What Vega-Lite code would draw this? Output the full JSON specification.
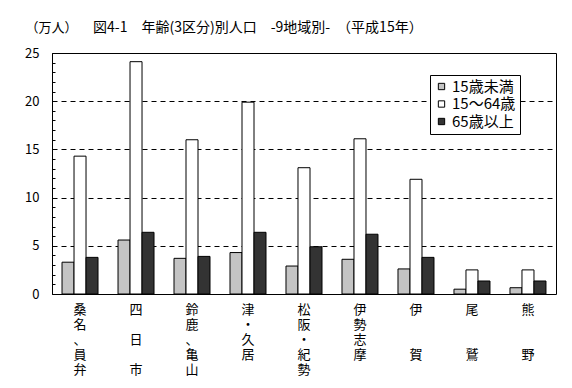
{
  "$schema": "https://vega.github.io/schema/vega-lite/v6.json",
  "width": 504,
  "height": 241,
  "autosize": {"type": "none"},
  "padding": {"left": 52, "top": 53, "right": 16, "bottom": 94},
  "background": "white",
  "config": {
    "view": {"stroke": "black", "strokeWidth": 1},
    "font": "Noto Sans CJK JP"
  },
  "title": {
    "text": "図4-1　年齢(3区分)別人口　-9地域別-　（平成15年）",
    "anchor": "start",
    "frame": "group",
    "dx": 41,
    "offset": -14,
    "fontSize": 14,
    "fontWeight": "normal",
    "font": "Noto Sans CJK JP",
    "color": "black"
  },
  "data": {
    "values": [
      {"region": "桑名、員弁", "age": "15歳未満", "value": 3.3},
      {"region": "桑名、員弁", "age": "15～64歳", "value": 14.3},
      {"region": "桑名、員弁", "age": "65歳以上", "value": 3.8},
      {"region": "四日市", "age": "15歳未満", "value": 5.6},
      {"region": "四日市", "age": "15～64歳", "value": 24.1},
      {"region": "四日市", "age": "65歳以上", "value": 6.4},
      {"region": "鈴鹿、亀山", "age": "15歳未満", "value": 3.7},
      {"region": "鈴鹿、亀山", "age": "15～64歳", "value": 16.0},
      {"region": "鈴鹿、亀山", "age": "65歳以上", "value": 3.9},
      {"region": "津・久居", "age": "15歳未満", "value": 4.3},
      {"region": "津・久居", "age": "15～64歳", "value": 19.9},
      {"region": "津・久居", "age": "65歳以上", "value": 6.4},
      {"region": "松阪・紀勢", "age": "15歳未満", "value": 2.9},
      {"region": "松阪・紀勢", "age": "15～64歳", "value": 13.1},
      {"region": "松阪・紀勢", "age": "65歳以上", "value": 4.9},
      {"region": "伊勢志摩", "age": "15歳未満", "value": 3.6},
      {"region": "伊勢志摩", "age": "15～64歳", "value": 16.1},
      {"region": "伊勢志摩", "age": "65歳以上", "value": 6.2},
      {"region": "伊賀", "age": "15歳未満", "value": 2.6},
      {"region": "伊賀", "age": "15～64歳", "value": 11.9},
      {"region": "伊賀", "age": "65歳以上", "value": 3.8},
      {"region": "尾鷲", "age": "15歳未満", "value": 0.5},
      {"region": "尾鷲", "age": "15～64歳", "value": 2.5},
      {"region": "尾鷲", "age": "65歳以上", "value": 1.35},
      {"region": "熊野", "age": "15歳未満", "value": 0.65},
      {"region": "熊野", "age": "15～64歳", "value": 2.5},
      {"region": "熊野", "age": "65歳以上", "value": 1.35}
    ]
  },
  "mark": {"type": "bar", "stroke": "black", "strokeWidth": 1},
  "encoding": {
    "x": {
      "field": "region",
      "type": "nominal",
      "sort": null,
      "scale": {"paddingInner": 0.357, "paddingOuter": 0.179},
      "axis": {
        "title": null,
        "labelAngle": 0,
        "ticks": false,
        "domain": false,
        "labelBaseline": "top",
        "labelPadding": 9,
        "labelLineHeight": 15,
        "labelFontSize": 13,
        "labelColor": "black",
        "labelExpr": "datum.label == '四日市' ? ['四','\u2800','日','\u2800','市'] : datum.label == '伊賀' ? ['伊','\u2800','\u2800','賀'] : datum.label == '尾鷲' ? ['尾','\u2800','\u2800','鷲'] : datum.label == '熊野' ? ['熊','\u2800','\u2800','野'] : split(datum.label, '')"
      }
    },
    "xOffset": {
      "field": "age",
      "type": "nominal",
      "sort": ["15歳未満", "15～64歳", "65歳以上"],
      "scale": {"paddingInner": 0, "paddingOuter": 0}
    },
    "y": {
      "field": "value",
      "type": "quantitative",
      "scale": {"domain": [0, 25], "nice": false},
      "axis": {
        "title": "（万人）",
        "titleAngle": 0,
        "titleX": -27,
        "titleY": -26,
        "titleAlign": "left",
        "titleBaseline": "middle",
        "titleFontSize": 13,
        "titleFontWeight": "normal",
        "titleColor": "black",
        "values": [0,1,2,3,4,5,6,7,8,9,10,11,12,13,14,15,16,17,18,19,20,21,22,23,24,25],
        "tickSize": -3,
        "tickColor": "black",
        "labelExpr": "datum.value % 5 == 0 ? datum.label : ''",
        "labelFontSize": 13,
        "labelColor": "black",
        "labelPadding": 16,
        "domainColor": "black",
        "grid": true,
        "gridColor": "black",
        "gridDash": [5, 4],
        "gridOpacity": {"condition": {"test": "datum.value % 5 == 0 && datum.value > 0 && datum.value < 25", "value": 1}, "value": 0}
      }
    },
    "fill": {
      "field": "age",
      "type": "nominal",
      "sort": ["15歳未満", "15～64歳", "65歳以上"],
      "scale": {"domain": ["15歳未満", "15～64歳", "65歳以上"], "range": ["#c4c4c4", "#ffffff", "#333333"]},
      "legend": {
        "title": null,
        "orient": "none",
        "legendX": 378,
        "legendY": 22,
        "strokeColor": "black",
        "fillColor": "white",
        "padding": 4,
        "symbolType": "square",
        "symbolSize": 40,
        "symbolStrokeColor": "black",
        "symbolStrokeWidth": 1,
        "labelFontSize": 15,
        "labelColor": "black",
        "labelOffset": 3,
        "rowPadding": 1.5
      }
    }
  }
}
